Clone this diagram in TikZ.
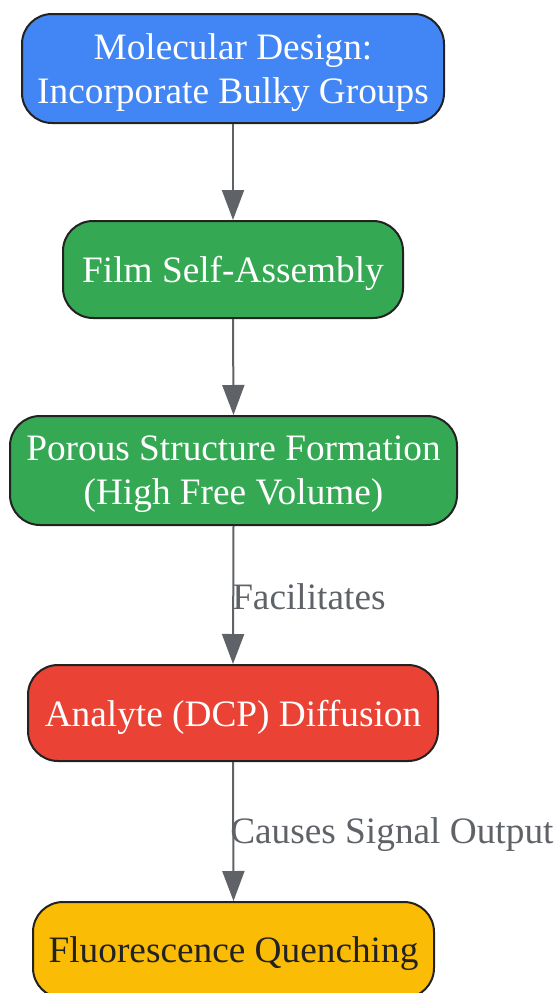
\documentclass[tikz,border=0pt]{standalone}
\usepackage{fontspec}
\setmainfont{Liberation Serif}
\usetikzlibrary{arrows.meta}
\definecolor{gblue}{HTML}{4285F4}
\definecolor{ggreen}{HTML}{34A853}
\definecolor{gred}{HTML}{EA4335}
\definecolor{gyellow}{HTML}{FBBC05}
\definecolor{edgegray}{HTML}{5F6368}
\definecolor{bordr}{HTML}{222222}
\tikzset{
  flowbox/.style={draw=bordr, line width=2pt, rounded corners=30pt, inner sep=0pt},
  boxtext/.style={inner sep=0pt, align=center, yshift=-4pt, font=\fontsize{37.3}{44}\selectfont},
  flowarrow/.style={draw=edgegray, line width=2pt, -{Triangle[length=30pt,width=22pt]}},
  edgelabel/.style={text=edgegray, inner sep=0pt, anchor=west, font=\fontsize{37.3}{44}\selectfont}
}
\begin{document}
\begin{tikzpicture}[x=1pt,y=-1pt]
\useasboundingbox (0,0) rectangle (556,993);
\node[flowbox, fill=gblue, minimum width=422pt, minimum height=109pt] (a) at (233,68.5) {};
\node[boxtext, text=white] (at) at (a.center) {Molecular Design:\\Incorporate Bulky Groups};
\node[flowbox, fill=ggreen, minimum width=340pt, minimum height=97pt] (b) at (233,269.5) {};
\node[boxtext, text=white] (bt) at (b.center) {Film Self-Assembly};
\node[flowbox, fill=ggreen, minimum width=447pt, minimum height=109pt] (c) at (233.5,470.5) {};
\node[boxtext, text=white] (ct) at (c.center) {Porous Structure Formation\\(High Free Volume)};
\node[flowbox, fill=gred, minimum width=410pt, minimum height=96pt] (d) at (233,713) {};
\node[boxtext, text=white] (dt) at (d.center) {Analyte (DCP) Diffusion};
\node[flowbox, fill=gyellow, minimum width=401pt, minimum height=96pt] (e) at (233.5,950) {};
\node[boxtext, text=bordr] (et) at (e.center) {Fluorescence Quenching};
\draw[flowarrow] (a.south) -- (b.north);
\draw[flowarrow] (b.south) -- (c.north);
\draw[flowarrow] (c.south) -- node[edgelabel, xshift=-2pt, yshift=-2pt] (l1) {Facilitates} (d.north);
\draw[flowarrow] (d.south) -- node[edgelabel, xshift=-4pt, yshift=-3pt] (l2) {Causes Signal Output} (e.north);
\end{tikzpicture}
\end{document}
